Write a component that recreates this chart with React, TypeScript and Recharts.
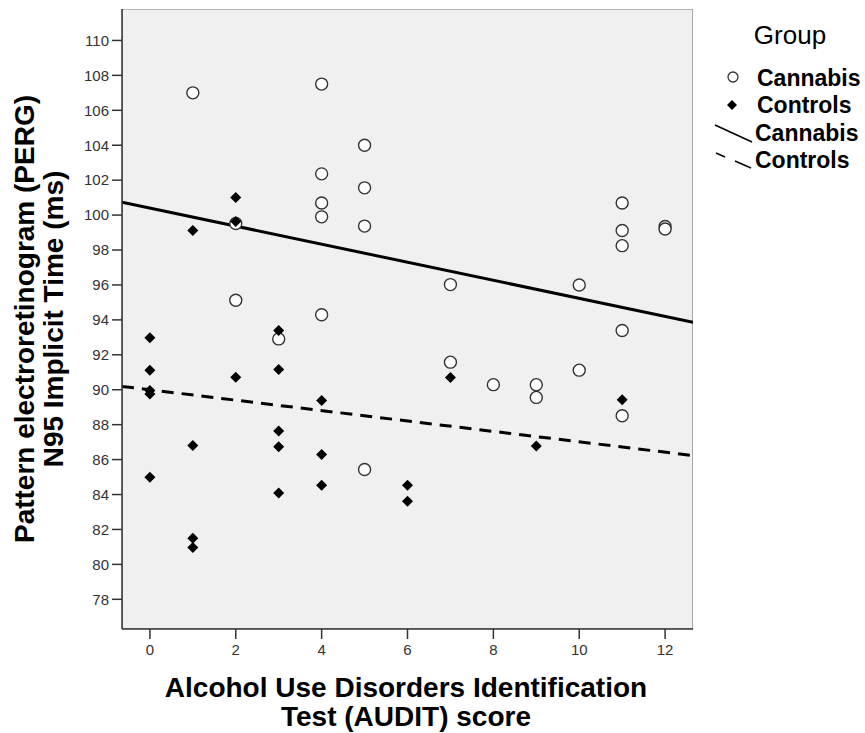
import React from "react";
import {
  ReferenceArea,
  ReferenceLine,
  Scatter,
  ScatterChart,
  XAxis,
  YAxis,
} from "recharts";

// AUDIT score (x) and PERG N95 implicit time (y)
const cannabisAudit = [1, 2, 2, 3, 4, 4, 4, 4, 4, 5, 5, 5, 5, 7, 7, 8, 9, 9, 10, 10, 11, 11, 11, 11, 11, 12, 12];
const cannabisN95 = [
  107.0, 99.52, 95.12, 92.91, 107.5, 102.36, 100.69, 99.9, 94.29, 104.0, 101.56, 99.37, 85.43,
  96.02, 91.58, 90.29, 90.29, 89.56, 96.0, 91.12, 100.69, 99.12, 98.25, 93.39, 88.51, 99.35, 99.2,
];

const controlsAudit = [0, 0, 0, 0, 0, 1, 1, 1, 1, 2, 2, 2, 3, 3, 3, 3, 3, 4, 4, 4, 6, 6, 7, 9, 11];
const controlsN95 = [
  92.97, 91.12, 89.95, 89.75, 84.99, 99.12, 86.8, 81.49, 80.97, 101.0, 99.63, 90.72, 93.39, 91.16,
  87.63, 86.74, 84.09, 89.39, 86.29, 84.53, 84.53, 83.62, 90.7, 86.78, 89.43,
];

// fitted lines, endpoints at the x-axis limits
const xDomain = [-0.65, 12.65];
const yDomain = [76.3, 111.8];
const cannabisFit = [100.74, 93.86];
const controlsFit = [90.19, 86.23];

const xTicks = [0, 2, 4, 6, 8, 10, 12];
const yTicks = [78, 80, 82, 84, 86, 88, 90, 92, 94, 96, 98, 100, 102, 104, 106, 108, 110];

const FONT = '"Liberation Sans", Arial, sans-serif';

const toPoints = (xs: number[], ys: number[]) => xs.map((x, i) => ({ x, y: ys[i] }));

const OpenCircle = (props: any) => (
  <circle cx={props.cx} cy={props.cy} r={6} fill="#fff" stroke="#333" strokeWidth={1.4} />
);

const Diamond = (props: any) => {
  const { cx, cy } = props;
  const h = 5.5;
  return <path d={`M${cx},${cy - h}L${cx + h},${cy}L${cx},${cy + h}L${cx - h},${cy}Z`} fill="#000" />;
};

const XTitle = () => (
  <g fontFamily={FONT} fontWeight="bold" fontSize={28} fill="#000" textAnchor="middle">
    <text x={406} y={697}>Alcohol Use Disorders Identification</text>
    <text x={406} y={726}>Test (AUDIT) score</text>
  </g>
);

const YTitle = () => (
  <g fontFamily={FONT} fontWeight="bold" fontSize={28} fill="#000" textAnchor="middle">
    <text x={34} y={319} transform="rotate(-90, 34, 319)">
      Pattern electroretinogram (PERG)
    </text>
    <text x={63} y={319} transform="rotate(-90, 63, 319)">
      N95 Implicit Time (ms)
    </text>
  </g>
);

function GroupLegend() {
  return (
    <svg
      width={165}
      height={190}
      style={{ position: "absolute", left: 700, top: 0 }}
      fontFamily={FONT}
    >
      <g transform="translate(-700,0)">
        <text x={790} y={44} fontSize={26} textAnchor="middle" fill="#000">
          Group
        </text>
        <circle cx={733} cy={77} r={5} fill="#fff" stroke="#333" strokeWidth={1.3} />
        <path d="M732,100L737,105L732,110L727,105Z" fill="#000" />
        <line x1={715} y1={125} x2={752} y2={142} stroke="#000" strokeWidth={1.5} />
        <line x1={716} y1={153} x2={725} y2={157} stroke="#000" strokeWidth={1.5} />
        <line x1={735} y1={161} x2={751} y2={168} stroke="#000" strokeWidth={1.5} />
        <g fontSize={23} fontWeight="bold" fill="#000">
          <text x={757} y={86}>Cannabis</text>
          <text x={757} y={113}>Controls</text>
          <text x={755} y={141}>Cannabis</text>
          <text x={755} y={168}>Controls</text>
        </g>
      </g>
    </svg>
  );
}

export default function App() {
  const cannabis = toPoints(cannabisAudit, cannabisN95);
  const controls = toPoints(controlsAudit, controlsN95);
  const tickStyle = { fontSize: 15, fill: "#333", fontFamily: FONT };

  return (
    <div style={{ position: "absolute", left: 0, top: 0, width: 865, height: 733, background: "#fff" }}>
      <ScatterChart width={865} height={733} margin={{ top: 9, right: 172, bottom: 0, left: 0 }}>
        <ReferenceArea
          x1={xDomain[0]}
          x2={xDomain[1]}
          y1={yDomain[0]}
          y2={yDomain[1]}
          fill="#f0f0f0"
          fillOpacity={1}
          stroke="#777"
          strokeWidth={1.2}
          ifOverflow="hidden"
        />
        <XAxis
          type="number"
          dataKey="x"
          domain={xDomain}
          allowDataOverflow
          ticks={xTicks}
          height={104}
          tickSize={10}
          tickMargin={5}
          stroke="#333"
          strokeWidth={1.5}
          tick={tickStyle}
          label={{ content: XTitle }}
        />
        <YAxis
          type="number"
          dataKey="y"
          domain={yDomain}
          allowDataOverflow
          ticks={yTicks}
          width={122}
          tickSize={10}
          tickMargin={3}
          stroke="#333"
          strokeWidth={1.5}
          tick={tickStyle}
          label={{ content: YTitle }}
        />
        <ReferenceLine
          segment={[
            { x: xDomain[0], y: cannabisFit[0] },
            { x: xDomain[1], y: cannabisFit[1] },
          ]}
          stroke="#000"
          strokeWidth={3}
          ifOverflow="hidden"
        />
        <ReferenceLine
          segment={[
            { x: xDomain[0], y: controlsFit[0] },
            { x: xDomain[1], y: controlsFit[1] },
          ]}
          stroke="#000"
          strokeWidth={3}
          strokeDasharray="12 8"
          ifOverflow="hidden"
        />
        <Scatter name="Cannabis" data={cannabis} shape={OpenCircle} isAnimationActive={false} />
        <Scatter name="Controls" data={controls} shape={Diamond} isAnimationActive={false} />
      </ScatterChart>
      <GroupLegend />
    </div>
  );
}
